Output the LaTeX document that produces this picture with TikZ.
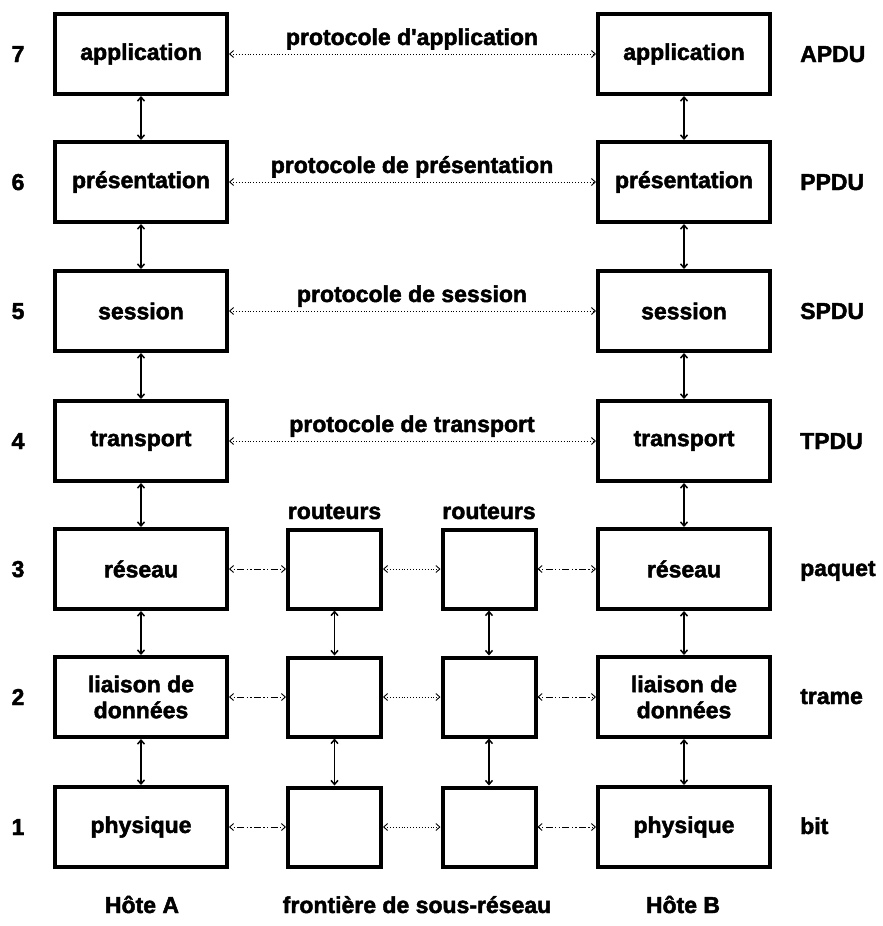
\documentclass[tikz,border=0pt]{standalone}
\usepackage{fontspec}
\setmainfont{Liberation Sans}[BoldFeatures={FakeBold=2}]
\usetikzlibrary{arrows.meta}
\begin{document}
\begin{tikzpicture}[x=1pt,y=-1pt,
  every node/.style={font=\bfseries\fontsize{23}{26}\selectfont, inner sep=0pt},
  layerbox/.style={draw, line width=4pt, minimum width=172pt, minimum height=80pt, align=center},
  routerbox/.style={draw, line width=4pt, minimum width=93pt, minimum height=79pt},
  >={Straight Barb[length=4pt,width=7pt]},
  vlink/.style={<->, line width=1.5pt},
  plink/.style={<->, line width=0.9pt, dotted},
  rlink/.style={<->, line width=0.9pt, dash pattern=on 1.2pt off 2.4pt on 1.2pt off 2.4pt on 7pt off 2.4pt},
  numlabel/.style={anchor=base},
  pdulabel/.style={anchor=base west},
  protolabel/.style={anchor=base}
]
\useasboundingbox (0,0) rectangle (883,926);

% host A stack
\node[layerbox] (A7) at (141,54)  {application};
\node[layerbox] (A6) at (141,182) {présentation};
\node[layerbox] (A5) at (141,311) {session};
\node[layerbox] (A4) at (141,441) {transport};
\node[layerbox] (A3) at (141,569) {réseau};
\node[layerbox] (A2) at (141,697) {liaison de\\données};
\node[layerbox] (A1) at (141,827) {physique};

% host B stack
\node[layerbox] (B7) at (684,54)  {application};
\node[layerbox] (B6) at (684,182) {présentation};
\node[layerbox] (B5) at (684,311) {session};
\node[layerbox] (B4) at (684,441) {transport};
\node[layerbox] (B3) at (684,569) {réseau};
\node[layerbox] (B2) at (684,697) {liaison de\\données};
\node[layerbox] (B1) at (684,827) {physique};

% routers of the subnet
\node[routerbox] (R3) at (334.5,569) {};
\node[routerbox] (R2) at (334.5,697) {};
\node[routerbox] (R1) at (334.5,827) {};
\node[routerbox] (S3) at (489,569) {};
\node[routerbox] (S2) at (489,697) {};
\node[routerbox] (S1) at (489,827) {};
\node[anchor=base] (rtA) at (334.5,519) {routeurs};
\node[anchor=base] (rtB) at (489,519) {routeurs};

% layer numbers
\node[numlabel] (n7) at (18,62)  {7};
\node[numlabel] (n6) at (18,190) {6};
\node[numlabel] (n5) at (18,319) {5};
\node[numlabel] (n4) at (18,449) {4};
\node[numlabel] (n3) at (18,577) {3};
\node[numlabel] (n2) at (18,705) {2};
\node[numlabel] (n1) at (18,835) {1};

% data units
\node[pdulabel] (u7) at (800,62)  {APDU};
\node[pdulabel] (u6) at (800,190) {PPDU};
\node[pdulabel] (u5) at (800,319) {SPDU};
\node[pdulabel] (u4) at (800,449) {TPDU};
\node[pdulabel] (u3) at (800,576) {paquet};
\node[pdulabel] (u2) at (800,704) {trame};
\node[pdulabel] (u1) at (800,834) {bit};

% vertical links inside each host
\foreach \hi/\lo in {7/6,6/5,5/4,4/3,3/2,2/1}{
  \draw[vlink] (A\hi.south) -- (A\lo.north);
  \draw[vlink] (B\hi.south) -- (B\lo.north);
}
% vertical links inside each router
\draw[vlink] (R3.south) -- (R2.north);
\draw[vlink] (R2.south) -- (R1.north);
\draw[vlink] (S3.south) -- (S2.north);
\draw[vlink] (S2.south) -- (S1.north);

% peer protocols
\draw[plink] (A7.east) -- (B7.west);
\draw[plink] (A6.east) -- (B6.west);
\draw[plink] (A5.east) -- (B5.west);
\draw[plink] (A4.east) -- (B4.west);
\node[protolabel] (p7) at (412,45)  {protocole d\textquotesingle application};
\node[protolabel] (p6) at (412,173) {protocole de présentation};
\node[protolabel] (p5) at (412,302) {protocole de session};
\node[protolabel] (p4) at (412,432) {protocole de transport};

% hop-by-hop links in the subnet
\foreach \k in {3,2,1}{
  \draw[rlink] (A\k.east) -- (R\k.west);
  \draw[plink] (R\k.east) -- (S\k.west);
  \draw[rlink] (S\k.east) -- (B\k.west);
}

% bottom captions
\node[anchor=base] (hA) at (142,913) {Hôte A};
\node[anchor=base] (fr) at (417,913) {frontière de sous-réseau};
\node[anchor=base] (hB) at (683,913) {Hôte B};
\end{tikzpicture}
\end{document}
